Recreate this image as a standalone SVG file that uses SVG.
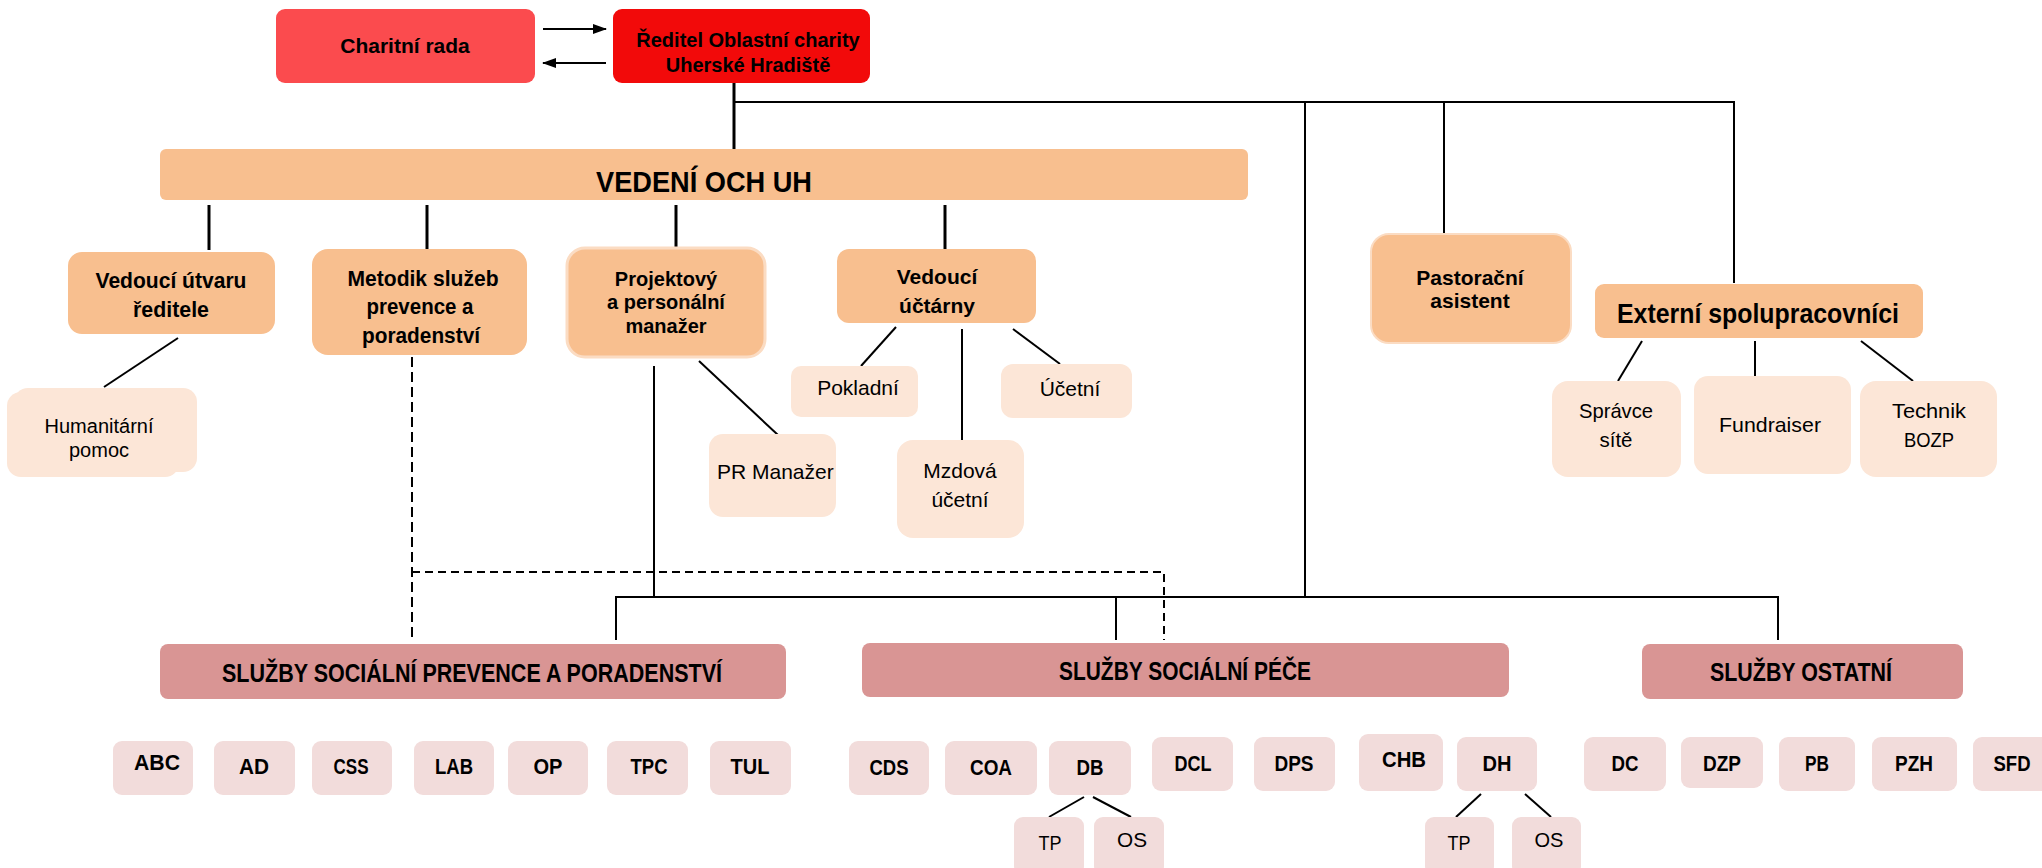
<svg xmlns="http://www.w3.org/2000/svg" width="2042" height="868" viewBox="0 0 2042 868">
<defs>
<marker id="ah" viewBox="0 0 14 10" refX="13" refY="5" markerWidth="14" markerHeight="10" markerUnits="userSpaceOnUse" orient="auto">
<path d="M0,0 L14,5 L0,10 Z" fill="#000"/>
</marker>
<style>
.ar{font-family:"Liberation Sans",Arial,sans-serif;fill:#000;text-anchor:middle}
.b{font-weight:bold}
.cb{font-family:"Liberation Sans",Arial,sans-serif;font-weight:bold;fill:#000;text-anchor:middle}
.cr{font-family:"Liberation Sans",Arial,sans-serif;fill:#000;text-anchor:middle}
.peach{fill:#F8BF8F}
.light{fill:#FCE6D7}
.hdr{fill:#D99594}
.unit{fill:#F2DCDB}
.ln{stroke:#000;stroke-width:2;fill:none}
.lnt{stroke:#000;stroke-width:3;fill:none}
.dash{stroke:#000;stroke-width:2;fill:none;stroke-dasharray:10 5}
.dashh{stroke:#000;stroke-width:2;fill:none;stroke-dasharray:8 5}
</style>
</defs>
<rect width="2042" height="868" fill="#fff"/>

<g id="connectors">
<line class="ln" x1="543" y1="29" x2="606" y2="29" marker-end="url(#ah)"/>
<line class="ln" x1="606" y1="63" x2="543" y2="63" marker-end="url(#ah)"/>
<line class="lnt" x1="734" y1="83" x2="734" y2="149"/>
<polyline class="ln" points="734,102 1734,102 1734,283"/>
<line class="ln" x1="1444" y1="102" x2="1444" y2="234"/>
<line class="ln" x1="1305" y1="102" x2="1305" y2="597"/>
<line class="lnt" x1="209" y1="205" x2="209" y2="250"/>
<line class="lnt" x1="427" y1="205" x2="427" y2="249"/>
<line class="lnt" x1="676" y1="205" x2="676" y2="248"/>
<line class="lnt" x1="945" y1="205" x2="945" y2="249"/>
<line class="ln" x1="178" y1="338" x2="104" y2="387"/>
<line class="dash" x1="412" y1="357" x2="412" y2="637"/>
<polyline class="dashh" points="412,572 1164,572 1164,640"/>
<line class="ln" x1="654" y1="366" x2="654" y2="597"/>
<line class="ln" x1="699" y1="361" x2="778" y2="435"/>
<line class="ln" x1="896" y1="327" x2="861" y2="366"/>
<line class="ln" x1="962" y1="329" x2="962" y2="440"/>
<line class="ln" x1="1013" y1="329" x2="1060" y2="364"/>
<line class="ln" x1="1642" y1="341" x2="1618" y2="381"/>
<line class="ln" x1="1755" y1="341" x2="1755" y2="376"/>
<line class="ln" x1="1861" y1="341" x2="1913" y2="381"/>
<polyline class="ln" points="616,640 616,597 1778,597 1778,640"/>
<line class="ln" x1="1116" y1="597" x2="1116" y2="640"/>
<line class="ln" x1="1084" y1="797" x2="1049" y2="817"/>
<line class="ln" x1="1093" y1="797" x2="1131" y2="817"/>
<line class="ln" x1="1481" y1="794" x2="1456" y2="817"/>
<line class="ln" x1="1525" y1="794" x2="1551" y2="817"/>
</g>

<g id="charitni-rada">
<rect x="276" y="9" width="259" height="74" rx="9" fill="#FB4B4E"/>
<text class="ar b" x="405" y="53" font-size="21">Charitní rada</text>
</g>
<g id="reditel">
<rect x="613" y="9" width="257" height="74" rx="9" fill="#F20A0A"/>
<text class="ar b" x="748" y="47" font-size="20">Ředitel Oblastní charity</text>
<text class="ar b" x="748" y="72" font-size="20">Uherské Hradiště</text>
</g>
<g id="vedeni">
<rect x="160" y="149" width="1088" height="51" rx="6" class="peach"/>
<text class="cb" x="704" y="192" font-size="29" textLength="216" lengthAdjust="spacingAndGlyphs">VEDENÍ OCH UH</text>
</g>
<g id="vedouci-utvaru">
<rect x="68" y="252" width="207" height="82" rx="14" class="peach"/>
<text class="cb" x="171" y="288" font-size="22" textLength="151" lengthAdjust="spacingAndGlyphs">Vedoucí útvaru</text>
<text class="cb" x="171" y="317" font-size="22" textLength="76" lengthAdjust="spacingAndGlyphs">ředitele</text>
</g>
<g id="metodik">
<rect x="312" y="249" width="215" height="106" rx="16" class="peach"/>
<text class="cb" x="423" y="286" font-size="22" textLength="151" lengthAdjust="spacingAndGlyphs">Metodik služeb</text>
<text class="cb" x="420" y="314" font-size="22" textLength="107" lengthAdjust="spacingAndGlyphs">prevence a</text>
<text class="cb" x="421" y="343" font-size="22" textLength="118" lengthAdjust="spacingAndGlyphs">poradenství</text>
</g>
<g id="projektovy">
<rect x="567" y="248" width="198" height="109" rx="18" class="peach" stroke="#FBDCC3" stroke-width="3"/>
<text class="ar b" x="666" y="286" font-size="20">Projektový</text>
<text class="ar b" x="666" y="309" font-size="20">a personální</text>
<text class="ar b" x="666" y="333" font-size="20">manažer</text>
</g>
<g id="vedouci-uctarny">
<rect x="837" y="249" width="199" height="74" rx="12" class="peach"/>
<text class="ar b" x="937" y="284" font-size="21">Vedoucí</text>
<text class="ar b" x="937" y="313" font-size="21">účtárny</text>
</g>
<g id="pastoracni">
<rect x="1371" y="234" width="200" height="109" rx="18" class="peach" stroke="#FBDCC3" stroke-width="2"/>
<text class="ar b" x="1470" y="285" font-size="21">Pastorační</text>
<text class="ar b" x="1470" y="308" font-size="21">asistent</text>
</g>
<g id="externi">
<rect x="1595" y="284" width="328" height="54" rx="9" class="peach"/>
<text class="cb" x="1758" y="323" font-size="27" textLength="282" lengthAdjust="spacingAndGlyphs">Externí spolupracovníci</text>
</g>
<g id="humanitarni">
<rect x="14" y="388" width="183" height="84" rx="14" class="light"/>
<rect x="7" y="392" width="172" height="85" rx="14" class="light"/>
<text class="ar" x="99" y="433" font-size="20">Humanitární</text>
<text class="ar" x="99" y="457" font-size="20">pomoc</text>
</g>
<g id="pr-manazer">
<rect x="709" y="434" width="127" height="83" rx="14" class="light"/>
<text class="ar" x="717" y="479" font-size="21" text-anchor="start" style="text-anchor:start">PR Manažer</text>
</g>
<g id="pokladni">
<rect x="791" y="366" width="127" height="51" rx="10" class="light"/>
<text class="ar" x="858" y="395" font-size="21">Pokladní</text>
</g>
<g id="mzdova">
<rect x="897" y="440" width="127" height="98" rx="16" class="light"/>
<text class="ar" x="960" y="478" font-size="21">Mzdová</text>
<text class="ar" x="960" y="507" font-size="21">účetní</text>
</g>
<g id="ucetni">
<rect x="1001" y="364" width="131" height="54" rx="12" class="light"/>
<text class="ar" x="1070" y="396" font-size="21">Účetní</text>
</g>
<g id="spravce">
<rect x="1552" y="381" width="129" height="96" rx="16" class="light"/>
<text class="cr" x="1616" y="418" font-size="21" textLength="74" lengthAdjust="spacingAndGlyphs">Správce</text>
<text class="cr" x="1616" y="447" font-size="21" textLength="33" lengthAdjust="spacingAndGlyphs">sítě</text>
</g>
<g id="fundraiser">
<rect x="1694" y="376" width="157" height="98" rx="14" class="light"/>
<text class="cr" x="1770" y="432" font-size="21" textLength="102" lengthAdjust="spacingAndGlyphs">Fundraiser</text>
</g>
<g id="technik">
<rect x="1860" y="381" width="137" height="96" rx="16" class="light"/>
<text class="cr" x="1929" y="418" font-size="21" textLength="74" lengthAdjust="spacingAndGlyphs">Technik</text>
<text class="cr" x="1929" y="447" font-size="21" textLength="50" lengthAdjust="spacingAndGlyphs">BOZP</text>
</g>

<g id="sluzby-prevence">
<rect x="160" y="644" width="626" height="55" rx="8" class="hdr"/>
<text class="cb" x="472" y="682" font-size="25" textLength="500" lengthAdjust="spacingAndGlyphs">SLUŽBY SOCIÁLNÍ PREVENCE A PORADENSTVÍ</text>
</g>
<g id="sluzby-pece">
<rect x="862" y="643" width="647" height="54" rx="8" class="hdr"/>
<text class="cb" x="1185" y="680" font-size="25" textLength="252" lengthAdjust="spacingAndGlyphs">SLUŽBY SOCIÁLNÍ PÉČE</text>
</g>
<g id="sluzby-ostatni">
<rect x="1642" y="644" width="321" height="55" rx="8" class="hdr"/>
<text class="cb" x="1801" y="681" font-size="25" textLength="182" lengthAdjust="spacingAndGlyphs">SLUŽBY OSTATNÍ</text>
</g>

<g id="u-abc"><rect x="113" y="741" width="80" height="54" rx="9" class="unit"/><text class="cb" x="157" y="770" font-size="22" textLength="46" lengthAdjust="spacingAndGlyphs">ABC</text></g>
<g id="u-ad"><rect x="214" y="741" width="81" height="54" rx="9" class="unit"/><text class="cb" x="254" y="774" font-size="22" textLength="30" lengthAdjust="spacingAndGlyphs">AD</text></g>
<g id="u-css"><rect x="312" y="741" width="80" height="54" rx="9" class="unit"/><text class="cb" x="351" y="774" font-size="22" textLength="35" lengthAdjust="spacingAndGlyphs">CSS</text></g>
<g id="u-lab"><rect x="414" y="741" width="80" height="54" rx="9" class="unit"/><text class="cb" x="454" y="774" font-size="22" textLength="38" lengthAdjust="spacingAndGlyphs">LAB</text></g>
<g id="u-op"><rect x="508" y="741" width="80" height="54" rx="9" class="unit"/><text class="cb" x="548" y="774" font-size="22" textLength="29" lengthAdjust="spacingAndGlyphs">OP</text></g>
<g id="u-tpc"><rect x="607" y="741" width="81" height="54" rx="9" class="unit"/><text class="cb" x="649" y="774" font-size="22" textLength="37" lengthAdjust="spacingAndGlyphs">TPC</text></g>
<g id="u-tul"><rect x="710" y="741" width="81" height="54" rx="9" class="unit"/><text class="cb" x="750" y="774" font-size="22" textLength="39" lengthAdjust="spacingAndGlyphs">TUL</text></g>

<g id="u-cds"><rect x="849" y="741" width="80" height="54" rx="9" class="unit"/><text class="cb" x="889" y="775" font-size="22" textLength="39" lengthAdjust="spacingAndGlyphs">CDS</text></g>
<g id="u-coa"><rect x="945" y="741" width="92" height="54" rx="9" class="unit"/><text class="cb" x="991" y="775" font-size="22" textLength="42" lengthAdjust="spacingAndGlyphs">COA</text></g>
<g id="u-db"><rect x="1049" y="741" width="82" height="54" rx="9" class="unit"/><text class="cb" x="1090" y="775" font-size="22" textLength="27" lengthAdjust="spacingAndGlyphs">DB</text></g>
<g id="u-dcl"><rect x="1152" y="737" width="81" height="54" rx="9" class="unit"/><text class="cb" x="1193" y="771" font-size="22" textLength="37" lengthAdjust="spacingAndGlyphs">DCL</text></g>
<g id="u-dps"><rect x="1254" y="737" width="81" height="54" rx="9" class="unit"/><text class="cb" x="1294" y="771" font-size="22" textLength="39" lengthAdjust="spacingAndGlyphs">DPS</text></g>
<g id="u-chb"><rect x="1359" y="734" width="84" height="57" rx="9" class="unit"/><text class="cb" x="1404" y="767" font-size="22" textLength="44" lengthAdjust="spacingAndGlyphs">CHB</text></g>
<g id="u-dh"><rect x="1457" y="737" width="80" height="54" rx="9" class="unit"/><text class="cb" x="1497" y="771" font-size="22" textLength="29" lengthAdjust="spacingAndGlyphs">DH</text></g>
<g id="u-db-tp"><rect x="1014" y="817" width="70" height="58" rx="9" class="unit"/><text class="cr" x="1050" y="850" font-size="20" textLength="23" lengthAdjust="spacingAndGlyphs">TP</text></g>
<g id="u-db-os"><rect x="1094" y="817" width="70" height="58" rx="9" class="unit"/><text class="cr" x="1132" y="847" font-size="20" textLength="30" lengthAdjust="spacingAndGlyphs">OS</text></g>
<g id="u-dh-tp"><rect x="1425" y="817" width="69" height="58" rx="9" class="unit"/><text class="cr" x="1459" y="850" font-size="20" textLength="23" lengthAdjust="spacingAndGlyphs">TP</text></g>
<g id="u-dh-os"><rect x="1512" y="817" width="69" height="58" rx="9" class="unit"/><text class="cr" x="1549" y="847" font-size="20" textLength="29" lengthAdjust="spacingAndGlyphs">OS</text></g>

<g id="u-dc"><rect x="1584" y="737" width="82" height="54" rx="9" class="unit"/><text class="cb" x="1625" y="771" font-size="22" textLength="27" lengthAdjust="spacingAndGlyphs">DC</text></g>
<g id="u-dzp"><rect x="1681" y="737" width="82" height="51" rx="9" class="unit"/><text class="cb" x="1722" y="771" font-size="22" textLength="38" lengthAdjust="spacingAndGlyphs">DZP</text></g>
<g id="u-pb"><rect x="1779" y="737" width="76" height="54" rx="9" class="unit"/><text class="cb" x="1817" y="771" font-size="22" textLength="24" lengthAdjust="spacingAndGlyphs">PB</text></g>
<g id="u-pzh"><rect x="1872" y="737" width="85" height="54" rx="9" class="unit"/><text class="cb" x="1914" y="771" font-size="22" textLength="38" lengthAdjust="spacingAndGlyphs">PZH</text></g>
<g id="u-sfd"><rect x="1973" y="737" width="80" height="54" rx="9" class="unit"/><text class="cb" x="2012" y="771" font-size="22" textLength="37" lengthAdjust="spacingAndGlyphs">SFD</text></g>
</svg>
